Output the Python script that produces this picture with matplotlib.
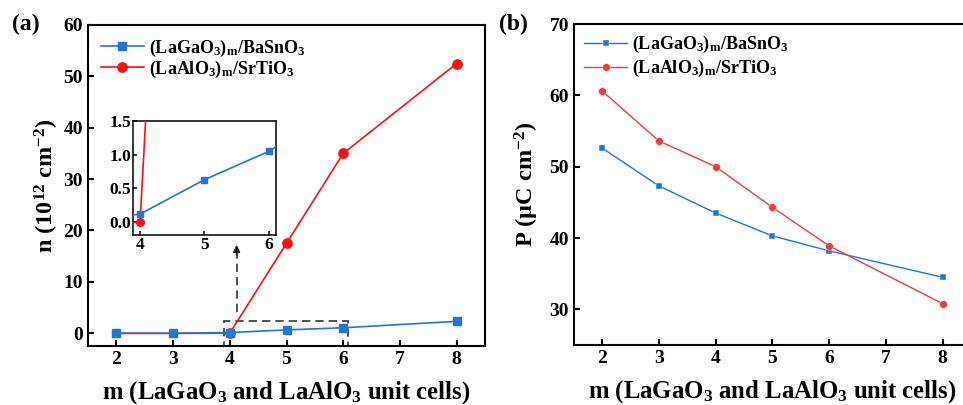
#!/usr/bin/env python3
"""Carrier density and polarization vs. number of polar unit cells (two panels)."""

import matplotlib

matplotlib.use("Agg")
import matplotlib.pyplot as plt
from matplotlib.patches import Rectangle

plt.rcParams.update({
    "font.family": ["Liberation Serif", "DejaVu Serif"],
    "font.weight": "bold",
    "axes.labelweight": "bold",
    "mathtext.fontset": "custom",
    "mathtext.rm": "Liberation Serif:bold",
    "mathtext.it": "Liberation Serif:bold:italic",
    "mathtext.bf": "Liberation Serif:bold",
    "mathtext.default": "rm",
    "axes.linewidth": 1.5,
    "xtick.direction": "in",
    "ytick.direction": "in",
    "xtick.major.width": 1.5,
    "ytick.major.width": 1.5,
    "xtick.major.size": 4,
    "ytick.major.size": 4,
})

# data
m_cells = [2, 3, 4, 5, 6, 8]
n_lgo_bso = [0.0, 0.0, 0.12, 0.63, 1.05, 2.3]
n_lao_sto = [-0.05, -0.05, 0.0, 17.5, 35.0, 52.5]
p_lgo_bso = [52.6, 47.3, 43.5, 40.3, 38.2, 34.5]
p_lao_sto = [60.6, 53.6, 50.0, 44.3, 38.9, 30.8]

x_ticks = [2, 3, 4, 5, 6, 7, 8]
n_ticks = [0, 10, 20, 30, 40, 50, 60]
inset_x_ticks = [4, 5, 6]
inset_y_ticks = ["0.0", "0.5", "1.0", "1.5"]
p_ticks = [30, 40, 50, 60, 70]

label_lgo = r"(LaGaO$_3$)$_m$/BaSnO$_3$"
label_lao = r"(LaAlO$_3$)$_m$/SrTiO$_3$"
xlabel = r"m (LaGaO$_3$ and LaAlO$_3$ unit cells)"

BLUE = "#1f78d8"
RED_A = "#ff1010"
RED_B = "#f03c3c"


def set_ticks(ax, xt, yt, fontsize):
    ax.set_xticks(xt, [str(v) for v in xt], fontsize=fontsize, fontweight="bold")
    ax.set_yticks([float(v) for v in yt], [str(v) for v in yt], fontsize=fontsize,
                  fontweight="bold")
    ax.tick_params(top=False, right=False)


def plot_density(fig):
    ax = fig.add_axes([0.0914, 0.1457, 0.4123, 0.7926])
    ax.plot(m_cells, n_lao_sto, "-o", color=RED_A, lw=1.2, ms=6.7, markevery=[2, 3, 4, 5],
            label=label_lao, zorder=3)
    ax.plot(m_cells, n_lgo_bso, "-s", color=BLUE, lw=1.2, ms=5.4, label=label_lgo, zorder=4)
    ax.set_xlim(1.5, 8.5)
    ax.set_ylim(-2.5, 60)
    set_ticks(ax, x_ticks, n_ticks, 14)
    ax.set_xlabel(xlabel, fontsize=17.8, labelpad=8)
    ax.set_ylabel(r"n (10$^{12}$ cm$^{-2}$)", fontsize=17.5, labelpad=2)

    handles, labels = ax.get_legend_handles_labels()
    ax.legend(handles[::-1], labels[::-1], loc="upper left", frameon=False, fontsize=13,
              handlelength=2.4, labelspacing=0.0, borderaxespad=0.45, handletextpad=0.25,
              borderpad=0.25)

    # zoom box + arrow
    ax.add_patch(Rectangle((3.89, -2.5), 2.2, 4.9, fill=False, ls=(0, (5, 3)),
                           lw=1.2, ec="#333333", zorder=2))
    ax.plot([4.12, 4.12], [4.1, 15.8], ls=(0, (5, 3)), lw=1.2, color="#333333")
    ax.annotate("", xy=(4.12, 17.2), xytext=(4.12, 15.3),
                arrowprops=dict(arrowstyle="-|>", color="#222222", lw=1.2,
                                mutation_scale=10, shrinkA=0, shrinkB=0))

    ins = fig.add_axes([0.1381, 0.4198, 0.1485, 0.2815])
    ins.plot(m_cells, n_lao_sto, "-o", color=RED_A, lw=1.2, ms=5.5, zorder=3)
    ins.plot(m_cells, n_lgo_bso, "-s", color=BLUE, lw=1.2, ms=5, zorder=4)
    ins.set_xlim(3.89, 6.11)
    ins.set_ylim(-0.19, 1.5)
    set_ticks(ins, inset_x_ticks, inset_y_ticks, 12.5)
    for s in ins.spines.values():
        s.set_linewidth(1.1)
    ins.tick_params(width=1.1, length=3, pad=1.5)


def plot_polarization(fig):
    ax = fig.add_axes([0.596, 0.148, 0.4123, 0.7926])
    ax.plot(m_cells, p_lgo_bso, "-s", color=BLUE, lw=1.0, ms=5.0, mec="white", mew=0.3,
            label=label_lgo, zorder=3)
    ax.plot(m_cells, p_lao_sto, "-o", color=RED_B, lw=1.0, ms=5.6, mec="white", mew=0.3,
            label=label_lao, zorder=3)
    ax.set_xlim(1.5, 8.5)
    ax.set_ylim(25, 70)
    set_ticks(ax, x_ticks, p_ticks, 14)
    ax.set_xlabel(xlabel, fontsize=17.8, labelpad=8)
    ax.set_ylabel(r"P ($\mathbf{\mu}$C cm$^{-2}$)", fontsize=17.5, labelpad=6)
    ax.legend(loc="upper left", frameon=False, fontsize=13, handlelength=2.4,
              labelspacing=0.18, borderaxespad=0.45, handletextpad=0.25, borderpad=0.1)


def main():
    fig = plt.figure(figsize=(9.63, 4.05), dpi=100)
    plot_density(fig)
    plot_polarization(fig)
    fig.text(0.012, 0.94, "(a)", fontsize=17, fontweight="bold", va="center")
    fig.text(0.518, 0.94, "(b)", fontsize=17, fontweight="bold", va="center")
    fig.savefig("out.png", dpi=100)
    plt.close(fig)


if __name__ == "__main__":
    main()
